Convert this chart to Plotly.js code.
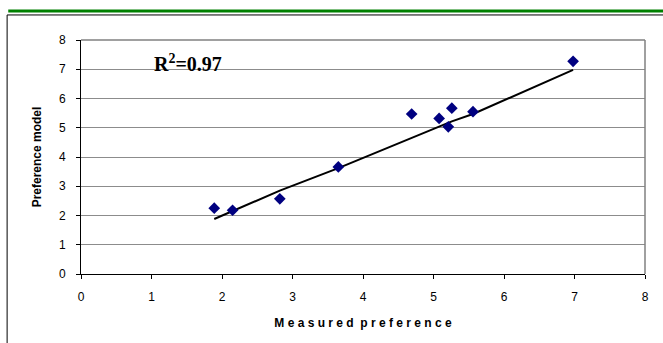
<!DOCTYPE html>
<html><head><meta charset="utf-8">
<script src="https://cdn.plot.ly/plotly-3.0.1.min.js"></script>
<style>html,body{margin:0;padding:0;background:#fff;}#chart{width:663px;height:343px;}</style>
</head><body><div id="chart"></div>
<script>
// Measured vs model preference
const measured = [1.89, 2.15, 2.82, 3.65, 4.69, 5.08, 5.21, 5.26, 5.56, 6.98];
const model    = [2.25, 2.18, 2.57, 3.66, 5.47, 5.32, 5.03, 5.67, 5.55, 7.27];
// fitted line (as drawn)
const fitX = [1.89, 2.15, 2.82, 3.65, 4.69, 5.08, 5.21, 5.26, 5.56, 6.98];
const fitY = [1.88, 2.15, 2.85, 3.62, 4.67, 5.05, 5.17, 5.22, 5.47, 6.98];
const xTicks = [0, 1, 2, 3, 4, 5, 6, 7, 8];
const yTicks = [0, 1, 2, 3, 4, 5, 6, 7, 8];
const darkGrid = [2, 6];
const r2Text = 'R<sup>2</sup>=0.97';

const traces = [
  {x: fitX, y: fitY, mode: 'lines', line: {color: '#000', width: 2}, hoverinfo: 'skip'},
  {x: measured, y: model, mode: 'markers',
   marker: {symbol: 'diamond', color: '#000080', size: 9}}
];

const shapes = [
  {type: 'line', xref: 'paper', yref: 'paper', x0: 0, x1: 1, y0: 1, y1: 1, line: {color: '#808080', width: 1.5}},
  {type: 'line', xref: 'paper', yref: 'paper', x0: 1, x1: 1, y0: 0, y1: 1, line: {color: '#808080', width: 1.5}},
  {type: 'line', xref: 'paper', yref: 'paper', x0: -0.129, x1: 1.04, y0: 1.124, y1: 1.124, line: {color: '#008000', width: 3}},
  {type: 'rect', xref: 'paper', yref: 'paper', x0: -0.131, x1: 1.05, y0: -0.35, y1: 1.107, line: {color: '#000', width: 1}}
];
darkGrid.forEach(v => shapes.push({type: 'line', layer: 'below', xref: 'paper', yref: 'y', x0: 0, x1: 1, y0: v, y1: v, line: {color: '#000', width: 1}}));

const layout = {
  width: 663, height: 343,
  margin: {l: 81, r: 18, t: 40, b: 69},
  paper_bgcolor: '#fff', plot_bgcolor: '#fff',
  showlegend: false,
  font: {family: 'Liberation Sans, Arial, sans-serif', size: 12, color: '#000'},
  xaxis: {
    range: [0, 8], tickvals: xTicks, ticktext: xTicks.map(String),
    showgrid: false, zeroline: false,
    showline: true, linecolor: '#000', linewidth: 1,
    ticks: 'outside', ticklen: 4, tickcolor: '#000',
    ticklabelstandoff: 8,
    tickfont: {size: 12, color: '#000'},
    title: {text: '<b>M e a s u r e d  p r e f e r e n c e</b>', font: {size: 12, color: '#000'}, standoff: 15}
  },
  yaxis: {
    range: [0, 8], tickvals: yTicks, ticktext: yTicks.map(String),
    showgrid: true, gridcolor: '#8c8c8c', gridwidth: 1,
    zeroline: false,
    showline: true, linecolor: '#000', linewidth: 1,
    ticks: 'outside', ticklen: 4, tickcolor: '#000',
    ticklabelstandoff: 8,
    tickfont: {size: 12, color: '#000'},
    title: {text: '<b>Preference model</b>', font: {size: 12, color: '#000'}, standoff: 14}
  },
  shapes: shapes,
  annotations: [
    {x: 1.0, y: 7.2, xref: 'x', yref: 'y', xanchor: 'left', yanchor: 'middle', showarrow: false,
     text: '<b>' + r2Text + '</b>', font: {family: 'Liberation Serif, Times New Roman, serif', size: 20, color: '#000'}}
  ]
};

Plotly.newPlot('chart', traces, layout, {displayModeBar: false, staticPlot: true});
</script></body></html>
